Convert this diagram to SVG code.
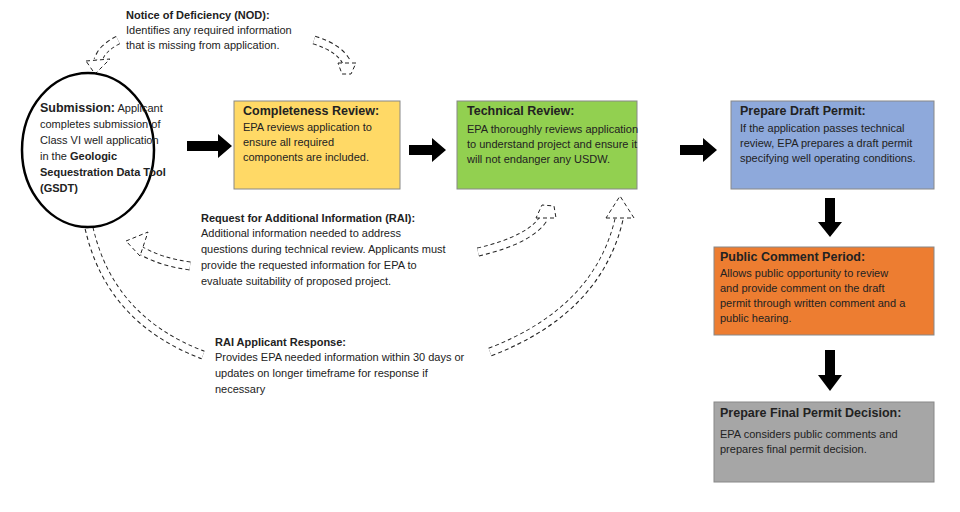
<svg xmlns="http://www.w3.org/2000/svg" width="960" height="512" viewBox="0 0 960 512">
<style>
text{font-family:"Liberation Sans",Arial,sans-serif;font-size:11px;fill:#222}
.t{font-weight:bold;font-size:12.5px}
.b{font-weight:bold}
.box{stroke:#888;stroke-width:1}
.bo{fill:none;stroke:#222;stroke-width:9;stroke-dasharray:4 3}
.bi{fill:none;stroke:#fff;stroke-width:7}
.hd{fill:#fff;stroke:#222;stroke-width:1;stroke-dasharray:4 3}
</style>
<rect width="960" height="512" fill="#fff"/>
<g id="connectors">
<polygon points="187,141 218,141 218,134 232,146 218,158 218,151 187,151" fill="#000"/>
<polygon points="409,145 432,145 432,138 446,150 432,162 432,155 409,155" fill="#000"/>
<polygon points="680,145 703,145 703,138 717,150 703,162 703,155 680,155" fill="#000"/>
<polygon points="825,198 835,198 835,222 842,222 830,237 818,222 825,222" fill="#000"/>
<polygon points="825,350 835,350 835,375 842,375 830,391 818,375 825,375" fill="#000"/>
<path class="bo" d="M118,40 Q102,48 98,60"/><path class="bi" d="M118,40 Q102,48 98,60"/>
<polygon class="hd" points="86,61 110,59 95,74"/>
<path class="bo" d="M314,40 Q340,48 347,63"/><path class="bi" d="M314,40 Q340,48 347,63"/>
<polygon class="hd" points="338,63 356,63 351,74 342,74"/>
<path class="bo" d="M190,266 Q160,262 140,250"/><path class="bi" d="M190,266 Q160,262 140,250"/>
<polygon class="hd" points="126,241 148,232 140,256"/>
<path class="bo" d="M478,252 Q530,240 544,218"/><path class="bi" d="M478,252 Q530,240 544,218"/>
<polygon class="hd" points="536,218 556,218 554,206 542,205"/>
<path class="bo" d="M89,228 Q110,320 203,355"/><path class="bi" d="M89,228 Q110,320 203,355"/>
<path class="bo" d="M490,352 Q600,310 620,215"/><path class="bi" d="M490,352 Q600,310 620,215"/>
<polygon class="hd" points="606,218 634,218 620,196"/>
</g>
<g id="nod">
<text x="126" y="19" class="b">Notice of Deficiency (NOD):</text>
<text x="126" y="34">Identifies any required information</text>
<text x="126" y="49">that is missing from application.</text>
</g>
<g id="submission">
<ellipse cx="88" cy="150" rx="66" ry="77" fill="#fff" stroke="#000" stroke-width="2.5"/>
<text x="40" y="112"><tspan class="t">Submission:</tspan> Applicant</text>
<text x="40" y="128">completes submission of</text>
<text x="40" y="144">Class VI well application</text>
<text x="40" y="160">in the <tspan class="b">Geologic</tspan></text>
<text x="40" y="176" class="b">Sequestration Data Tool</text>
<text x="40" y="192" class="b">(GSDT)</text>
</g>
<g id="completeness">
<rect class="box" x="234" y="101" width="166" height="88" fill="#FFD966"/>
<text x="243" y="115" class="t">Completeness Review:</text>
<text x="243" y="131">EPA reviews application to</text>
<text x="243" y="146">ensure all required</text>
<text x="243" y="161">components are included.</text>
</g>
<g id="technical">
<rect class="box" x="457" y="101" width="180" height="88" fill="#92D050"/>
<text x="467" y="115" class="t">Technical Review:</text>
<text x="467" y="133">EPA thoroughly reviews application</text>
<text x="467" y="148">to understand project and ensure it</text>
<text x="467" y="163">will not endanger any USDW.</text>
</g>
<g id="draft">
<rect class="box" x="731" y="101" width="203" height="88" fill="#8EA9DB"/>
<text x="740" y="115" class="t">Prepare Draft Permit:</text>
<text x="740" y="132">If the application passes technical</text>
<text x="740" y="147">review, EPA prepares a draft permit</text>
<text x="740" y="162">specifying well operating conditions.</text>
</g>
<g id="public">
<rect class="box" x="714" y="247" width="220" height="88" fill="#ED7D31"/>
<text x="720" y="261" class="t">Public Comment Period:</text>
<text x="720" y="277">Allows public opportunity to review</text>
<text x="720" y="292">and provide comment on the draft</text>
<text x="720" y="307">permit through written comment and a</text>
<text x="720" y="322">public hearing.</text>
</g>
<g id="final">
<rect class="box" x="714" y="402" width="220" height="80" fill="#A6A6A6"/>
<text x="720" y="417" class="t">Prepare Final Permit Decision:</text>
<text x="720" y="438">EPA considers public comments and</text>
<text x="720" y="453">prepares final permit decision.</text>
</g>
<g id="rai">
<text x="201" y="222" class="b">Request for Additional Information (RAI):</text>
<text x="201" y="237">Additional information needed to address</text>
<text x="201" y="253">questions during technical review. Applicants must</text>
<text x="201" y="269">provide the requested information for EPA to</text>
<text x="201" y="285">evaluate suitability of proposed project.</text>
</g>
<g id="response">
<text x="215" y="346" class="b">RAI Applicant Response:</text>
<text x="215" y="361">Provides EPA needed information within 30 days or</text>
<text x="215" y="377">updates on longer timeframe for response if</text>
<text x="215" y="393">necessary</text>
</g>
</svg>
